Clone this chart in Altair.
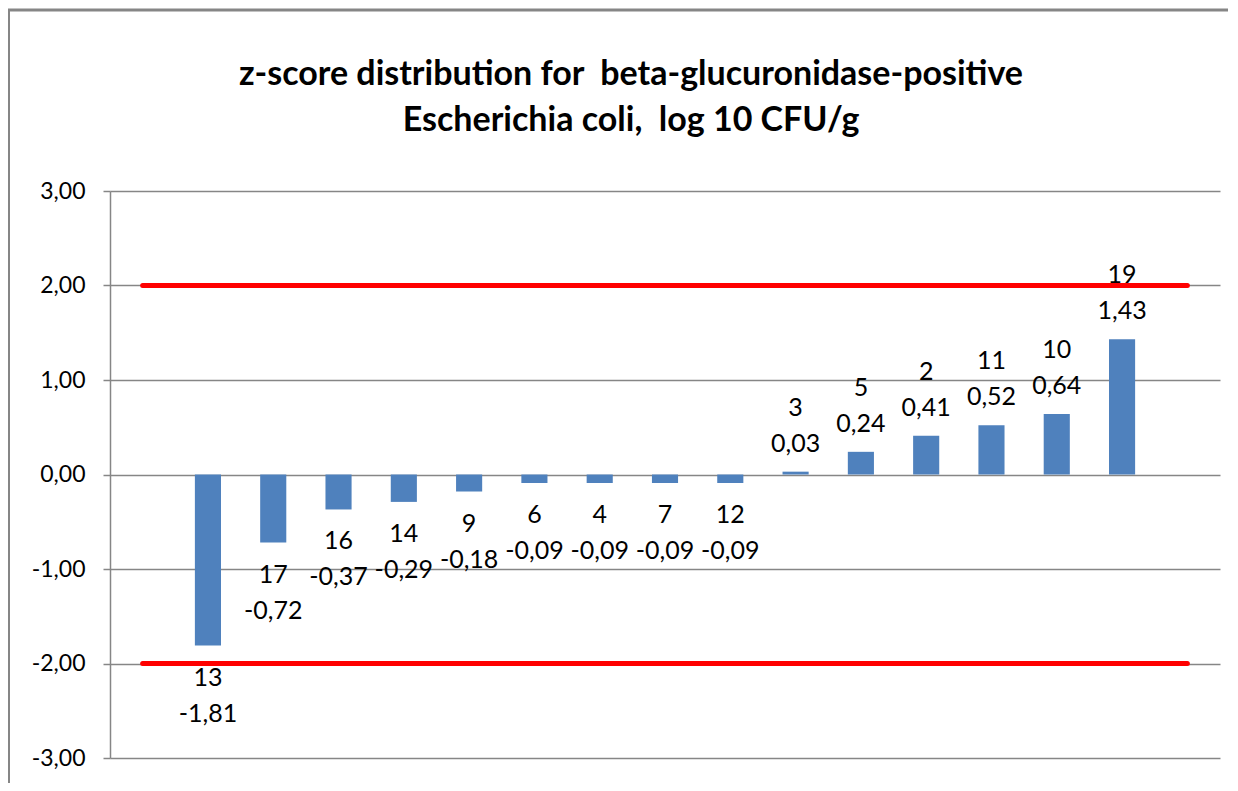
import altair as alt
import pandas as pd

labs = ["13", "17", "16", "14", "9", "6", "4", "7", "12", "3", "5", "2", "11", "10", "19"]
zs = [-1.81, -0.72, -0.37, -0.29, -0.18, -0.09, -0.09, -0.09, -0.09, 0.03, 0.24, 0.41, 0.52, 0.64, 1.43]
pad_cats = ["a", "b"]  # empty categories at both ends
limits = [2.0, -2.0]
title_lines = ["z-score distribution for  beta-glucuronidase-positive", "Escherichia coli,  log 10 CFU/g"]

domain = [pad_cats[0]] + labs + [pad_cats[1]]

df = pd.DataFrame({"lab": labs, "z": zs})
df["zs"] = [f"{v:.2f}".replace(".", ",") for v in zs]

lim_rows = []
for i, l in enumerate(limits):
    for c in pad_cats:
        lim_rows.append({"lab": c, "z": l, "g": i})
lim = pd.DataFrame(lim_rows)

FONT = "Lato"
GRAY = "#868686"

xenc = alt.X("lab:N", scale=alt.Scale(domain=domain, paddingInner=0.6, paddingOuter=0.3), axis=None)
yscale = alt.Scale(domain=[-3, 3], nice=False)

base = alt.Chart(df)

bars = base.mark_bar(color="#4F81BD").encode(
    x=xenc,
    y=alt.Y("z:Q", scale=yscale, axis=alt.Axis(
        values=[-3, -2, -1, 0, 1, 2, 3],
        labelExpr="replace(replace(format(datum.value, '.2f'), '.', ','), '\u2212', '-')",
        title=None, grid=True, gridColor=GRAY, gridWidth=1.5,
        domainColor=GRAY, domainWidth=1.5, tickColor=GRAY, tickWidth=1.5,
        tickSize=7, labelPadding=18, labelFont=FONT, labelFontSize=23,
        labelColor="black")),
)

lines = alt.Chart(lim).mark_line(color="#FF0000", strokeWidth=5, strokeCap="round").encode(
    x=xenc, y=alt.Y("z:Q", scale=yscale), detail="g:N"
)

pos = base.transform_filter("datum.z >= 0")
neg = base.transform_filter("datum.z < 0")
tprops = dict(font=FONT, fontSize=25, color="black", baseline="middle", align="center")

t1 = pos.mark_text(dy=-64, **tprops).encode(x=xenc, y=alt.Y("z:Q", scale=yscale), text="lab:N")
t2 = pos.mark_text(dy=-28, **tprops).encode(x=xenc, y=alt.Y("z:Q", scale=yscale), text="zs:N")
t3 = neg.mark_text(dy=32, **tprops).encode(x=xenc, y=alt.Y("z:Q", scale=yscale), text="lab:N")
t4 = neg.mark_text(dy=68, **tprops).encode(x=xenc, y=alt.Y("z:Q", scale=yscale), text="zs:N")

frame = alt.Chart(pd.DataFrame({"k": [0]})).mark_rect(
    fill=None, stroke=GRAY, strokeWidth=3
).encode(x=alt.value(-101.5), x2=alt.value(1200), y=alt.value(-181), y2=alt.value(640))

# keep double spaces visible in SVG
tl = [s.replace("  ", " \u00a0") for s in title_lines]
ttl_props = dict(font=FONT, fontSize=34, fontWeight="bold", color="black",
                 align="center", baseline="alphabetic")
title1 = alt.Chart(pd.DataFrame({"t": [tl[0]]})).mark_text(**ttl_props).encode(
    text="t:N", x=alt.value(521), y=alt.value(-106))
title2 = alt.Chart(pd.DataFrame({"t": [tl[1]]})).mark_text(**ttl_props).encode(
    text="t:N", x=alt.value(521), y=alt.value(-60))

chart = alt.layer(frame, bars, lines, t1, t2, t3, t4, title1, title2).properties(
    width=1110, height=567,
    autosize=alt.AutoSizeParams(type="none"),
    padding={"left": 102, "top": 183, "right": 8, "bottom": 25},
).configure_view(stroke=None)

chart.save("out.html", embed_options={"renderer": "svg", "actions": False})
